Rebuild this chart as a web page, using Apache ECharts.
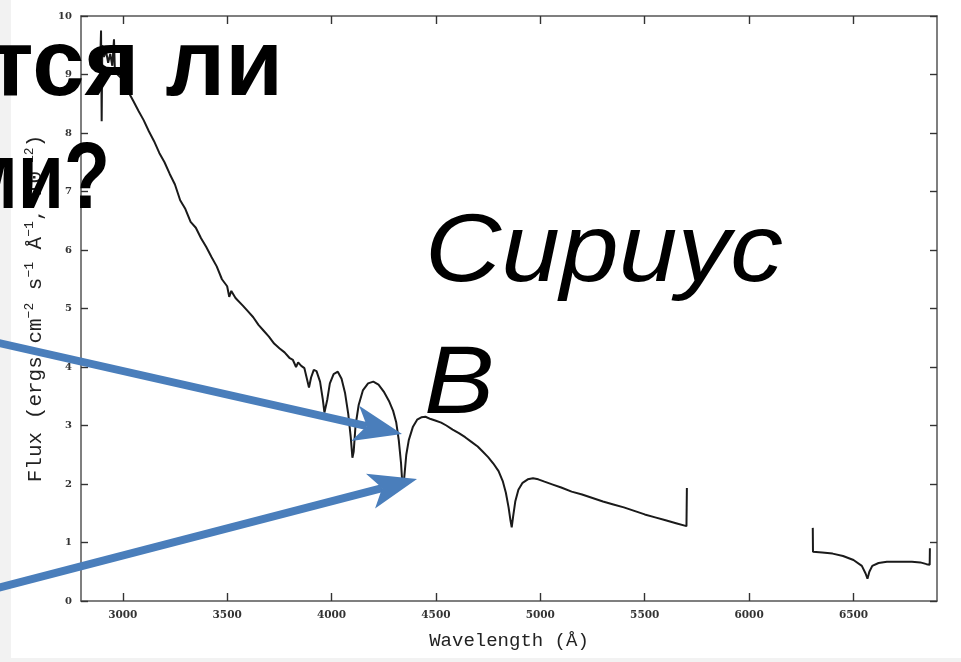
<!DOCTYPE html>
<html>
<head>
<meta charset="utf-8">
<script src="https://cdn.jsdelivr.net/npm/echarts@6/dist/echarts.min.js"></script>
<style>
html,body{margin:0;padding:0;background:#fff;}
#chart{width:961px;height:662px;}
</style>
</head>
<body>
<div id="chart"></div>
<script>
// ---- data ----
var xTicks = [3000, 3500, 4000, 4500, 5000, 5500, 6000, 6500];
var yTicks = [0, 1, 2, 3, 4, 5, 6, 7, 8, 9, 10];

var seg1Wave = [2893,2896,2899,2902,2910,2920,2930,2940,2950,2958,2962,2975,2990,3005,3020,3035,3050,
  3075,3100,3125,3150,3175,3200,3225,3250,3275,3300,3325,3350,3375,3400,3425,3450,3475,3500,3510,3520,3540,
  3575,3600,3625,3650,3675,3700,3725,3750,3775,3800,3815,3830,3840,3855,3870,3882,3892,3902,3915,3928,3945,
  3958,3966,3972,3980,3992,4010,4030,4048,4065,4080,4092,4100,4106,4115,4130,4150,4175,4200,4225,4250,4275,
  4295,4310,4322,4333,4340,4348,4358,4370,4390,4410,4430,4450,4475,4500,4525,4550,4580,4610,4640,4670,4700,
  4725,4750,4775,4800,4820,4835,4848,4857,4863,4870,4880,4895,4915,4940,4965,4990,5020,5060,5100,5150,5200,
  5250,5300,5350,5400,5450,5500,5550,5600,5650,5700,5702];
var seg1Flux = [9.35,9.75,8.2,9.5,9.3,9.4,9.2,9.35,9.15,9.6,9.1,9.0,8.95,8.85,8.75,8.65,8.55,
  8.38,8.22,8.03,7.86,7.66,7.5,7.3,7.12,6.85,6.7,6.48,6.38,6.2,6.05,5.88,5.72,5.5,5.38,5.2,5.3,5.18,
  5.05,4.95,4.85,4.72,4.62,4.52,4.4,4.32,4.25,4.15,4.12,4.0,4.08,4.02,3.98,3.8,3.65,3.82,3.95,3.93,3.75,
  3.45,3.22,3.2,3.45,3.72,3.88,3.92,3.8,3.55,3.2,2.8,2.45,2.55,3.0,3.35,3.6,3.72,3.75,3.7,3.58,3.42,
  3.25,3.05,2.75,2.35,1.95,2.1,2.5,2.75,2.98,3.1,3.14,3.15,3.11,3.08,3.05,3.0,2.93,2.87,2.8,2.72,2.64,
  2.55,2.46,2.35,2.22,2.05,1.85,1.6,1.38,1.26,1.45,1.7,1.9,2.02,2.08,2.1,2.08,2.04,1.99,1.94,1.87,1.82,
  1.76,1.7,1.65,1.6,1.54,1.48,1.43,1.38,1.33,1.28,1.93];

var seg2Wave = [6305,6306,6350,6400,6450,6500,6540,6558,6567,6576,6590,6620,6660,6720,6780,6820,6850,6865,6866];
var seg2Flux = [1.25,0.84,0.83,0.81,0.77,0.7,0.6,0.47,0.38,0.5,0.6,0.65,0.67,0.67,0.67,0.66,0.63,0.62,0.9];

var xAxisTitle = 'Wavelength (Å)';
var yAxisTitle = 'Flux (ergs cm{s|−2} s{s|−1} Å{s|−1}, 10{s|−12})';
var slideLine1 = 'тся ли';
var slideLine2 = 'ми?';
var starName1 = 'Сириус';
var starName2 = 'B';

function pairs(xs, ys){ var o=[]; for(var i=0;i<xs.length;i++) o.push([xs[i], ys[i]]); return o; }

// ---- annotation arrows ----
var arrowColor = '#4a7ebb';
function arrow(x0, y0, x1, y1){
  var dx=x1-x0, dy=y1-y0, len=Math.sqrt(dx*dx+dy*dy), ux=dx/len, uy=dy/len, nx=-uy, ny=ux;
  var L=48, W=18, notch=12;
  var bx=x1-L*ux, by=y1-L*uy;
  var mx=x1-(L-notch)*ux, my=y1-(L-notch)*uy;
  return [
    {type:'line', z:100, shape:{x1:x0,y1:y0,x2:mx,y2:my}, style:{stroke:arrowColor, lineWidth:8}},
    {type:'polygon', z:101, shape:{points:[[x1,y1],[bx+W*nx,by+W*ny],[mx,my],[bx-W*nx,by-W*ny]]}, style:{fill:arrowColor}}
  ];
}

var chart = echarts.init(document.getElementById('chart'), null, {renderer:'canvas'});
var axisColor = '#555';
var tickStyle = {color:'#333', width:1.4};
var labelFont = {fontFamily:'DejaVu Serif', fontSize:10, fontWeight:'bold', color:'#333'};

var graphics = [
  {type:'rect', z:-10, shape:{x:0,y:0,width:11,height:662}, style:{fill:'#f2f2f2'}},
  {type:'rect', z:-10, shape:{x:0,y:658,width:961,height:4}, style:{fill:'#f2f2f2'}},
  {type:'text', z:110, x:283, y:69, style:{text:slideLine1, font:'bold 94px "Liberation Sans"', fill:'#000', align:'right', verticalAlign:'middle'}},
  {type:'text', z:110, x:110, y:182, scaleX:0.8, style:{text:slideLine2, font:'bold 94px "Liberation Sans"', fill:'#000', align:'right', verticalAlign:'middle'}},
  {type:'text', z:110, x:425, y:254, scaleX:1.1, style:{text:starName1, font:'italic 96px "Liberation Sans"', fill:'#000', align:'left', verticalAlign:'middle'}},
  {type:'text', z:110, x:424, y:386, scaleX:1.1, style:{text:starName2, font:'italic 96px "Liberation Sans"', fill:'#000', align:'left', verticalAlign:'middle'}}
].concat(arrow(-10, 341, 402, 434)).concat(arrow(-10, 590, 417, 479));

chart.setOption({
  animation:false,
  backgroundColor:'#fff',
  grid:{left:81, right:24, top:16, bottom:61, show:false},
  xAxis:[{
    type:'value', min:2800, max:6900, position:'bottom',
    axisLine:{show:true, onZero:false, lineStyle:{color:axisColor, width:1.5}},
    axisTick:{show:true, inside:true, length:8, customValues:xTicks, lineStyle:tickStyle},
    axisLabel:{show:true, customValues:xTicks, margin:9, fontFamily:'DejaVu Serif', fontSize:10.5, fontWeight:'bold', color:'#333',
      formatter:function(v){ return String(v); }},
    splitLine:{show:false},
    name:xAxisTitle, nameLocation:'middle', nameGap:30,
    nameTextStyle:{fontFamily:'Liberation Mono', fontSize:19, color:'#222'}
  },{
    type:'value', min:2800, max:6900, position:'top',
    axisLine:{show:true, onZero:false, lineStyle:{color:axisColor, width:1.5}},
    axisTick:{show:true, inside:true, length:8, customValues:xTicks, lineStyle:tickStyle},
    axisLabel:{show:false}, splitLine:{show:false}
  }],
  yAxis:[{
    type:'value', min:0, max:10, interval:1, position:'left',
    axisLine:{show:true, onZero:false, lineStyle:{color:axisColor, width:1.5}},
    axisTick:{show:true, inside:true, length:7, lineStyle:tickStyle},
    axisLabel:Object.assign({show:true, margin:9}, labelFont),
    splitLine:{show:false},
    name:yAxisTitle, nameLocation:'middle', nameGap:22, nameRotate:90,
    nameTextStyle:{fontFamily:'Liberation Mono', fontSize:21, color:'#222', lineHeight:24,
      rich:{s:{fontFamily:'Liberation Mono', fontSize:13, color:'#222', verticalAlign:'top', lineHeight:13}}}
  },{
    type:'value', min:0, max:10, interval:1, position:'right',
    axisLine:{show:true, onZero:false, lineStyle:{color:axisColor, width:1.5}},
    axisTick:{show:true, inside:true, length:7, lineStyle:tickStyle},
    axisLabel:{show:false}, splitLine:{show:false}
  }],
  series:[{
    type:'line', xAxisIndex:0, yAxisIndex:0, data:pairs(seg1Wave, seg1Flux),
    showSymbol:false, symbol:'none', lineStyle:{color:'#1a1a1a', width:2}, z:5
  },{
    type:'line', xAxisIndex:0, yAxisIndex:0, data:pairs(seg2Wave, seg2Flux),
    showSymbol:false, symbol:'none', lineStyle:{color:'#1a1a1a', width:2}, z:5
  }],
  graphic:graphics
});
</script>
</body>
</html>
